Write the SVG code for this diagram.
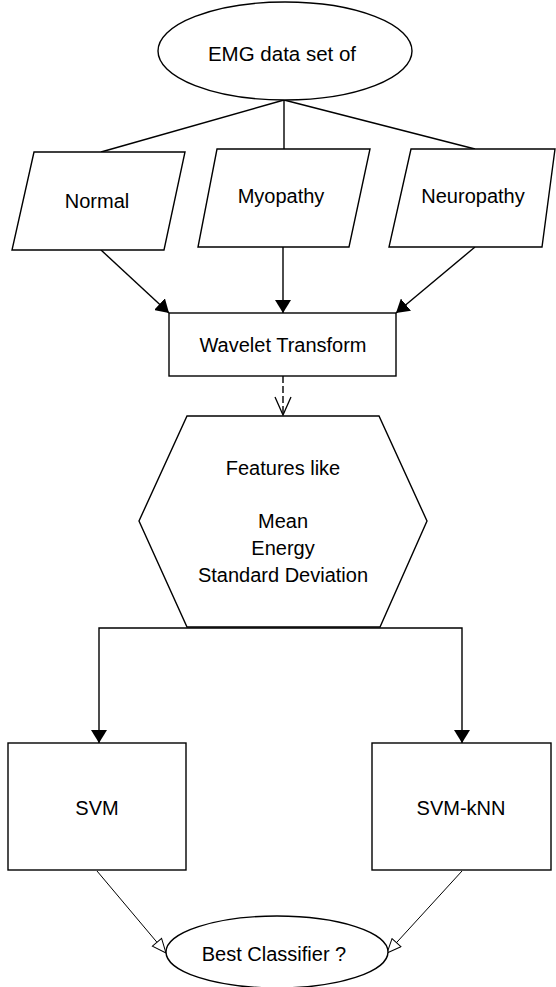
<svg xmlns="http://www.w3.org/2000/svg" width="556" height="987" viewBox="0 0 556 987">
<defs>
<style>
.shape{fill:#fff;stroke:#000;stroke-width:1.4}
.conn{fill:none;stroke:#000;stroke-width:1.4}
.thin{fill:none;stroke:#000;stroke-width:1}
.lbl{font-family:"Liberation Sans",Arial,sans-serif;font-size:20px;fill:#000;text-anchor:middle}
</style>
<marker id="filled" markerUnits="userSpaceOnUse" viewBox="0 0 13 16" markerWidth="13" markerHeight="16" refX="13" refY="8" orient="auto">
<path d="M0,0 L13,8 L0,16 z" fill="#000"/>
</marker>
<marker id="vopen" markerUnits="userSpaceOnUse" viewBox="-1 -1 20 18" markerWidth="20" markerHeight="18" refX="18" refY="8" orient="auto">
<path d="M0,0 L18,8 L0,16" fill="none" stroke="#000" stroke-width="1.3"/>
</marker>
<marker id="hollow" markerUnits="userSpaceOnUse" viewBox="-1 -1 16 14" markerWidth="16" markerHeight="14" refX="14" refY="6" orient="auto">
<path d="M0,0 L14,6 L0,12 z" fill="#fff" stroke="#000" stroke-width="1"/>
</marker>
</defs>
<rect width="556" height="987" fill="#fff"/>

<g id="connectors">
<line class="conn" x1="284" y1="100" x2="101" y2="152"/>
<line class="conn" x1="284" y1="100" x2="284" y2="149"/>
<line class="conn" x1="284" y1="100" x2="475" y2="149"/>
<line class="conn" x1="101" y1="250" x2="169" y2="313" marker-end="url(#filled)"/>
<line class="conn" x1="283" y1="247" x2="283" y2="313" marker-end="url(#filled)"/>
<line class="conn" x1="475" y1="247" x2="396" y2="313" marker-end="url(#filled)"/>
<line class="conn" x1="283" y1="376" x2="283" y2="415" stroke-dasharray="7,3" marker-end="url(#vopen)"/>
<path class="conn" d="M283,628 H99 V743" marker-end="url(#filled)"/>
<path class="conn" d="M283,628 H462 V743" marker-end="url(#filled)"/>
<line class="thin" x1="97" y1="871" x2="166" y2="953" marker-end="url(#hollow)"/>
<line class="thin" x1="462" y1="871" x2="387" y2="953" marker-end="url(#hollow)"/>
</g>

<g id="emg">
<ellipse class="shape" cx="285" cy="51" rx="127" ry="49"/>
<text class="lbl" x="282" y="61" style="font-size:20.5px">EMG data set of</text>
</g>
<g id="normal">
<polygon class="shape" points="34,152 185,152 164,250 12,250"/>
<text class="lbl" x="97" y="208">Normal</text>
</g>
<g id="myopathy">
<polygon class="shape" points="217,149 370,149 349,247 198,247"/>
<text class="lbl" x="281" y="203">Myopathy</text>
</g>
<g id="neuropathy">
<polygon class="shape" points="411,149 555,149 542,247 389,247"/>
<text class="lbl" x="473" y="203">Neuropathy</text>
</g>
<g id="wavelet">
<rect class="shape" x="169" y="313" width="227" height="63"/>
<text class="lbl" x="283" y="352">Wavelet Transform</text>
</g>
<g id="features">
<polygon class="shape" points="187,416 379,416 427,521 380,627 187,627 139,521"/>
<text class="lbl" x="283" y="475">Features like</text>
<text class="lbl" x="283" y="528">Mean</text>
<text class="lbl" x="283" y="555">Energy</text>
<text class="lbl" x="283" y="582">Standard Deviation</text>
</g>
<g id="svm">
<rect class="shape" x="8" y="743" width="178" height="127"/>
<text class="lbl" x="97" y="815">SVM</text>
</g>
<g id="svmknn">
<rect class="shape" x="372" y="743" width="179" height="127"/>
<text class="lbl" x="461" y="815">SVM-kNN</text>
</g>
<g id="best">
<ellipse class="shape" cx="277" cy="952" rx="111" ry="36"/>
<text class="lbl" x="274" y="961">Best Classifier ?</text>
</g>
</svg>
